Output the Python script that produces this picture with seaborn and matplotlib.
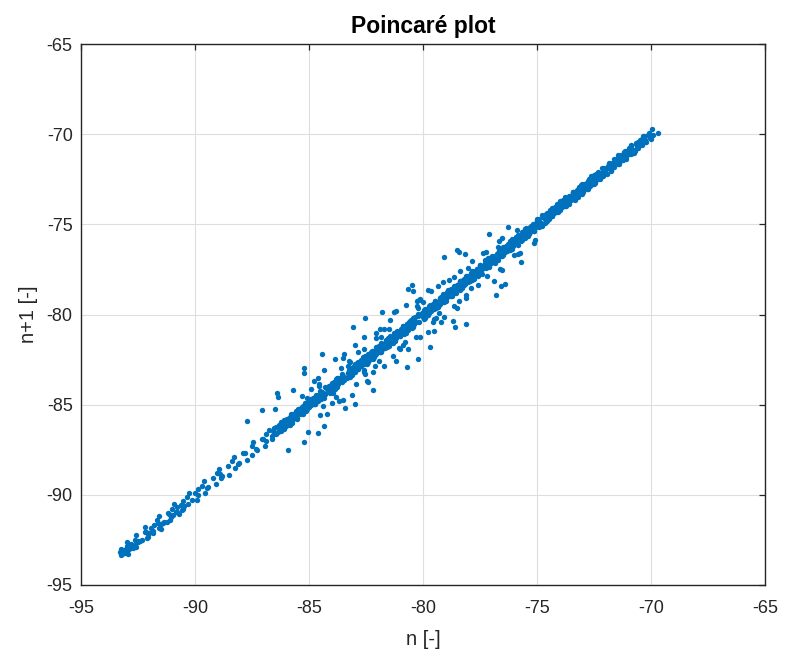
import numpy as np
import pandas as pd
import matplotlib
matplotlib.use("Agg")
import matplotlib.pyplot as plt
import seaborn as sns

# Successive samples of the recorded series, kept in the order they were taken.
rr_start = [
    -90.48, -90.61, -90.57, -90.83, -90.95, -91.14, -91.08, -91.37, -91.49, -91.62,
    -91.58, -91.86, -92.01, -92.13, -92.07, -92.34, -92.52, -92.61, -92.79, -92.74,
    -92.96, -93.11, -93.07, -93.24,
]

rr_rise_low = [
    -93.31, -93.18, -93.26, -92.98, -92.85, -92.97, -92.64, -92.49, -92.58, -92.21,
    -92.05, -92.18, -91.80, -91.66, -91.42, -91.57, -91.20, -91.02, -90.79, -90.93,
    -90.52, -90.36, -90.11, -90.26, -89.88, -89.70, -89.49, -89.61, -89.22, -89.05,
    -88.81, -88.96, -88.55, -88.38, -88.12, -88.27, -87.88, -87.70, -85.90, -87.52,
    -87.31, -87.44, -87.05, -86.88, -86.62, -86.75, -86.40, -84.35, -86.21, -86.02,
]

rr_rise_mid = [
    -85.83, -85.71, -85.77, -85.54, -85.39, -85.37, -85.21, -82.97, -84.94, -85.03,
    -84.92, -84.71, -84.63, -84.67, -84.49, -84.35, -84.42, -82.20, -84.18, -84.12,
    -83.95, -83.92, -83.76, -83.80, -83.57, -83.46, -82.20, -83.19, -83.17, -83.26,
    -83.07, -80.70, -82.93, -82.85, -82.91, -82.70, -82.55, -82.31, -82.38, -82.26,
    -82.20, -82.02, -81.99, -81.82, -81.58, -81.55, -81.62, -81.43, -80.30, -81.27,
    -81.19, -81.28, -81.01, -80.89, -80.87, -80.66, -78.58, -80.70, -80.55, -80.38,
    -80.44, -80.21, -80.10, -80.04, -79.90, -79.72, -79.53, -79.41, -79.47, -79.24,
    -79.09, -79.07, -76.80, -78.91, -78.64, -78.73, -78.62, -78.41, -78.33, -78.37,
    -78.19, -78.05, -78.12, -77.88, -77.82, -77.65, -77.62, -77.46, -77.50, -77.27,
    -77.16, -76.89, -76.87, -76.96, -76.77, -76.63, -76.55, -75.76, -76.61, -76.40,
    -76.25, -75.15, -76.01, -76.08, -75.96, -75.90, -75.72, -75.69, -77.10, -75.52,
    -75.28, -75.25, -75.32, -75.13, -74.97, -74.89, -74.98, -74.71, -74.59, -74.57,
    -74.36, -74.40, -74.25, -74.08, -74.14, -73.91, -73.80, -73.74, -73.60, -73.42,
    -73.23, -73.11, -73.17, -72.94, -72.79, -72.77, -72.61, -72.34, -72.43, -72.32,
    -72.11, -72.03, -72.07, -71.89, -71.75, -71.82, -71.58, -71.52, -71.35, -71.32,
    -71.16, -71.20, -70.97, -70.86, -70.59, -70.57, -70.66, -70.47, -70.33, -70.25,
    -70.31, -70.10, -69.95, -69.71,
]

rr_fall_mid = [
    -69.93, -70.07, -70.02, -70.28, -70.46, -70.55, -70.75, -71.03, -70.96, -71.11,
    -71.35, -71.46, -71.43, -71.64, -71.81, -71.75, -72.02, -72.12, -72.31, -72.39,
    -72.56, -72.50, -72.74, -72.82, -73.03, -73.29, -73.26, -73.40, -73.59, -73.68,
    -73.61, -73.89, -74.00, -74.22, -74.17, -74.32, -74.52, -74.62, -74.80, -75.07,
    -75.87, -75.29, -75.43, -75.38, -75.64, -75.82, -76.65, -75.91, -76.11, -76.39,
    -76.32, -76.47, -76.71, -76.82, -76.79, -77.00, -77.17, -77.11, -77.38, -76.60,
    -77.48, -77.67, -77.75, -77.92, -77.86, -78.10, -79.10, -78.18, -78.39, -78.65,
    -78.62, -78.76, -78.95, -79.04, -78.97, -79.25, -79.36, -79.58, -79.53, -79.68,
    -81.80, -79.88, -79.98, -80.16, -80.43, -80.65, -81.90, -80.79, -80.74, -81.00,
    -81.18, -82.60, -81.27, -81.47, -81.75, -81.68, -81.83, -82.07, -82.18, -82.15,
    -82.36, -82.53, -80.20, -82.47, -82.74, -82.84, -83.03, -83.11, -83.28, -83.22,
    -83.46, -83.54, -83.75, -84.01, -83.98, -84.90, -84.12, -84.31, -84.40, -84.33,
    -84.61, -83.50, -84.72, -84.94, -84.89, -85.04, -86.50, -85.24, -85.34, -85.52,
    -85.79, -86.01, -86.15, -86.10, -86.36, -86.54,
]

rr_rise_mid2 = [
    -86.32, -86.18, -86.23, -85.97, -85.79, -85.70, -84.20, -85.50, -85.22, -87.07,
    -85.29, -85.14, -84.90, -84.79, -83.70, -84.82, -84.61, -84.44, -84.50, -84.23,
    -84.13, -83.94, -83.86, -82.47, -83.69, -83.75, -83.51, -83.43, -85.20, -83.22,
    -82.96, -82.99, -81.70, -82.85, -82.66, -82.57, -83.20, -82.64, -82.36, -82.25,
    -82.03, -82.08, -81.00, -81.93, -81.73, -81.63, -81.45, -81.18, -79.80, -80.96,
    -80.82, -80.87, -80.61, -80.43, -78.70, -80.34, -80.14, -81.25, -79.86, -79.93,
    -79.78, -78.64, -79.54, -79.43, -79.46, -79.25, -79.08, -80.14, -79.14, -78.87,
    -78.77, -78.58, -78.50, -76.40, -78.33, -78.39, -78.15, -78.07, -77.86, -77.60,
    -77.63, -77.49, -77.30, -77.21, -77.28, -77.00, -76.89, -78.14, -76.67, -76.72,
    -76.57, -76.37, -76.27, -76.09, -75.82, -75.60, -75.46, -75.51, -75.25, -75.07,
    -74.98, -74.78, -74.50, -74.57, -74.42, -74.18, -74.07, -74.10, -73.89, -73.72,
    -73.78, -73.51, -73.41, -73.22, -73.14, -72.97, -73.03, -72.79, -72.71, -72.50,
    -72.24, -72.27, -72.13,
]

rr_fall_mid2 = [
    -72.30, -72.24, -72.48, -72.56, -72.77, -73.03, -73.00, -73.14, -73.33, -73.42,
    -73.35, -73.63, -73.74, -73.96, -73.91, -74.06, -74.26, -74.36, -74.54, -74.81,
    -75.03, -75.17, -75.12, -75.38, -75.56, -75.65, -75.85, -76.13, -76.06, -76.21,
    -76.45, -76.56, -78.40, -76.53, -76.74, -76.91, -76.85, -77.12, -77.22, -77.41,
    -77.49, -77.66, -77.60, -77.84, -77.92, -78.13, -80.50, -78.39, -77.59, -78.36,
    -78.50, -79.64, -78.69, -78.78, -78.71, -78.99, -79.10, -79.32, -78.40, -79.27,
    -79.42, -79.62, -79.72, -79.90, -80.17, -79.20, -80.39, -80.53, -80.48, -80.74,
    -79.50, -80.92, -81.01, -81.21, -81.49, -81.42, -81.57, -81.81, -81.92, -82.60,
    -81.89, -82.10, -82.27, -82.21, -82.48, -82.58, -82.77, -82.85, -83.02, -82.96,
    -83.20, -83.28, -83.49, -82.40, -83.75, -83.72, -83.86, -84.05, -84.14, -84.07,
    -84.35, -83.10, -84.46, -84.68, -84.63, -84.78, -84.98, -85.08, -85.26, -85.53,
    -85.75, -85.89, -85.84, -86.10, -86.28, -86.37, -84.60, -86.57,
]

rr_rise_mid3 = [
    -86.44, -86.23, -86.31, -86.14, -86.10, -85.85, -85.97, -85.78, -85.68, -85.53,
    -85.56, -85.34, -85.27, -85.09, -85.19, -84.93, -84.84, -84.70, -84.75, -84.55,
    -83.95, -84.33, -84.43, -84.28, -84.02, -83.98, -83.80, -84.55, -83.85, -83.72,
    -83.52, -83.64, -83.55, -83.30, -83.23, -83.26, -82.60, -83.07, -82.90, -82.98,
    -82.77, -82.67, -82.53, -82.40, -82.19, -82.27, -82.10, -82.85, -82.06, -81.81,
    -81.93, -81.74, -81.64, -81.49, -80.80, -81.52, -81.30, -81.23, -81.05, -81.15,
    -80.89, -81.70, -80.80, -80.66, -80.71, -80.51, -80.29, -80.39, -80.24, -79.98,
    -79.30, -79.94, -79.76, -79.81, -79.68, -79.48, -79.60, -79.51, -80.25, -79.26,
    -79.19, -79.22, -79.03, -78.86, -78.10, -78.94, -78.73, -78.63, -78.49, -78.36,
    -78.15, -78.23, -78.06, -78.02, -77.40, -77.77, -77.89, -77.70, -77.60, -77.45,
    -77.48, -77.26, -77.19, -77.85, -77.01, -77.11, -76.85, -76.76, -76.62, -76.67,
    -76.47, -76.25, -76.35, -76.20, -75.94, -75.90, -75.72, -75.77, -75.64, -75.44,
    -75.56, -75.47, -75.22, -75.15, -75.18, -74.99, -74.82, -74.90, -74.69, -74.59,
    -74.45, -74.32, -74.11, -74.19, -74.02, -73.98, -73.73, -73.85, -73.66, -73.56,
    -73.41, -73.44, -73.22, -73.15, -72.97, -73.07, -72.81, -72.72, -72.58, -72.63,
    -72.43, -72.21, -72.31, -72.16, -71.90, -71.86, -71.68, -71.73, -71.60, -71.40,
    -71.52, -71.43, -71.18, -71.11, -71.14, -70.95, -70.78, -70.86, -70.65, -70.55,
    -70.41, -70.28, -70.34, -70.12, -70.03,
]

rr_fall_mid3 = [
    -70.21, -70.45, -70.39, -70.60, -70.69, -70.96, -70.88, -71.10, -71.24, -71.43,
    -71.41, -71.66, -71.77, -71.97, -71.92, -72.20, -72.33, -72.50, -72.46, -72.69,
    -72.89, -72.84, -72.97, -73.21, -73.30, -73.22, -73.49, -73.66, -73.77, -73.75,
    -73.97, -74.15, -74.09, -74.34, -74.48, -74.69, -74.65, -74.93, -75.12, -75.35,
    -75.53, -75.77, -75.71, -75.92, -76.01, -76.70, -76.28, -76.20, -76.42, -76.56,
    -76.75, -76.73, -76.98, -77.09, -77.29, -77.24, -76.55, -77.52, -77.65, -77.82,
    -77.78, -78.01, -78.21, -78.16, -78.29, -78.53, -78.62, -77.90, -78.54, -78.81,
    -78.98, -79.09, -79.07, -79.29, -79.47, -79.41, -80.20, -79.66, -79.80, -80.01,
    -79.97, -80.25, -79.55, -80.44, -80.67, -80.85, -81.09, -81.03, -81.85, -81.24,
    -81.33, -81.60, -81.52, -81.74, -81.88, -82.07, -82.05, -81.30, -82.30, -82.41,
    -82.61, -82.56, -83.30, -82.84, -82.97, -83.14, -83.10, -83.33, -83.53, -83.48,
    -83.61, -82.95, -83.85, -83.94, -83.86, -84.13, -84.30, -84.41, -84.39, -85.10,
    -84.61, -84.79, -84.73, -84.98, -85.12, -85.33, -85.29, -84.50, -85.57, -85.76,
    -85.99, -86.17, -86.24, -86.45, -86.60,
]

rr_fall_low = [
    -86.88, -87.00, -86.92, -87.30, -87.52, -87.81, -87.70, -88.05, -88.23, -88.50,
    -88.91, -88.85, -89.09, -89.42, -89.57, -89.88, -90.00, -89.92, -90.30, -90.52,
    -90.81, -90.70, -91.05, -91.23, -91.50, -91.91, -91.85, -92.09, -92.42, -92.57,
    -92.88, -93.00, -92.92, -93.30,
]

axis_ticks = [-95, -90, -85, -80, -75, -70, -65]

series = np.concatenate([rr_start, rr_rise_low, rr_rise_mid, rr_fall_mid,
                         rr_rise_mid2, rr_fall_mid2, rr_rise_mid3, rr_fall_mid3,
                         rr_fall_low])
# Poincaré pairs: each sample against the one that follows it
pairs = pd.DataFrame({"n": series[:-1], "n_next": series[1:]})

sns.set_style("white")
plt.rcParams["font.family"] = ["Liberation Sans", "DejaVu Sans"]

ink = "#262626"
fig = plt.figure(figsize=(7.87, 6.59), dpi=100)
ax = fig.add_axes([0.1029, 0.1123, 0.8691, 0.8209])

sns.scatterplot(data=pairs, x="n", y="n_next", ax=ax, color="#0072BD",
                s=15, linewidth=0, alpha=1.0, zorder=3)

ax.set_xlim(-95, -65)
ax.set_ylim(-95, -65)
ax.set_xticks(axis_ticks)
ax.set_yticks(axis_ticks)
ax.set_xticklabels([str(t) for t in axis_ticks])
ax.set_yticklabels([str(t) for t in axis_ticks])

ax.grid(True, color="#dedede", linewidth=0.8)
ax.set_axisbelow(True)
for sp in ax.spines.values():
    sp.set_visible(True)
    sp.set_color(ink)
    sp.set_linewidth(1.0)

ax.tick_params(direction="in", length=4, width=0.9, color=ink,
               top=True, right=True, labelsize=13, labelcolor=ink)
ax.tick_params(axis="x", pad=11)
ax.tick_params(axis="y", pad=6)

ax.set_xlabel("n [-]", fontsize=14.5, color=ink, labelpad=9)
ax.set_ylabel("n+1 [-]", fontsize=14.5, color=ink, labelpad=6)
ax.set_title("Poincaré plot", fontsize=16.5, fontweight="bold", color="black", pad=8)

fig.savefig("out.png", dpi=100)
